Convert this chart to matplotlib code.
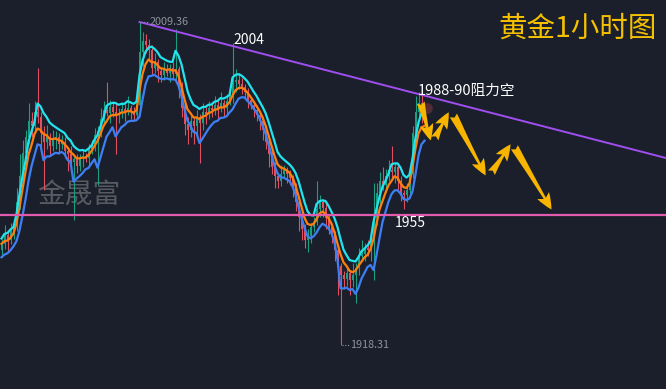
import numpy as np
import pandas as pd
import matplotlib
matplotlib.use("Agg")
import matplotlib.pyplot as plt
from matplotlib.patches import FancyArrowPatch

plt.rcParams['font.family'] = ['Noto Sans CJK SC', 'DejaVu Sans']

# ---------------- data ----------------
first_open = 1945.0
closes = [
    1946.8, 1949.2, 1947.9, 1950.3, 1952.0, 1958.5, 1966.0, 1972.5, 1977.0, 1981.5,
    1980.0, 1984.0, 1982.5, 1978.0, 1975.5, 1976.8, 1974.5, 1976.0, 1977.0, 1975.0,
    1975.5, 1973.0, 1972.2, 1970.0, 1970.6, 1968.8, 1970.9, 1971.5, 1971.0, 1973.5,
    1975.0, 1977.5, 1978.5, 1982.0, 1984.5, 1983.8, 1985.5, 1984.0, 1983.0, 1983.8,
    1984.8, 1984.0, 1985.0, 1984.0, 1983.0, 1986.0, 2001.0, 2004.0, 2003.0, 2001.5,
    1996.5, 1998.0, 1995.5, 1994.5, 1996.0, 1995.0, 1996.5, 1994.8, 1996.0, 1991.0,
    1985.0, 1980.5, 1979.0, 1981.5, 1980.0, 1982.5, 1981.0, 1984.0, 1983.5, 1985.2,
    1984.5, 1986.0, 1985.0, 1986.5, 1985.0, 1987.0, 1988.5, 1992.5, 1993.0, 1992.0,
    1991.0, 1989.5, 1987.5, 1986.0, 1984.5, 1983.0, 1981.5, 1979.0, 1975.5, 1972.0,
    1968.5, 1966.0, 1964.5, 1966.5, 1967.5, 1966.5, 1965.5, 1963.0, 1958.5, 1954.5,
    1951.0, 1948.0, 1949.0, 1951.5, 1953.0, 1956.5, 1958.5, 1957.0, 1954.0, 1951.5,
    1949.5, 1945.0, 1940.5, 1938.0, 1937.0, 1938.5, 1936.5, 1938.0, 1940.0, 1943.5,
    1944.0, 1945.5, 1945.0, 1948.5, 1954.0, 1961.0, 1964.5, 1963.5, 1966.0, 1967.5,
    1967.0, 1968.5, 1964.5, 1961.0, 1960.5, 1962.0, 1966.5, 1978.0, 1984.0, 1986.5,
    1983.0, 1981.0,
]
wick_up = [
    1.5, 3.0, 1.2, 2.5, 1.0, 4.0, 6.0, 3.5, 2.0, 5.0,
    2.5, 3.0, 12.5, 1.5, 2.0, 3.5, 1.2, 2.8, 1.5, 1.0,
    2.0, 1.5, 1.0, 2.2, 0.8, 1.5, 1.2, 2.0, 1.0, 1.5,
    1.2, 2.0, 1.5, 3.0, 2.5, 8.0, 2.0, 1.5, 2.5, 1.2,
    2.0, 1.5, 3.5, 1.0, 1.5, 2.0, 8.36, 2.5, 2.0, 1.5,
    1.5, 2.5, 1.0, 1.2, 2.0, 1.5, 1.0, 1.5, 11.5, 1.0,
    1.5, 1.0, 2.0, 1.5, 1.2, 2.0, 1.0, 2.5, 1.5, 2.0,
    1.0, 2.5, 1.5, 3.0, 1.0, 2.0, 1.5, 11.0, 3.0, 2.0,
    1.5, 1.0, 1.2, 0.8, 1.0, 1.5, 0.8, 1.0, 1.2, 0.8,
    1.0, 1.5, 0.8, 2.5, 1.5, 1.0, 1.2, 0.8, 1.0, 1.5,
    1.0, 1.5, 2.0, 1.2, 1.5, 8.0, 2.0, 1.0, 1.5, 0.8,
    1.0, 0.8, 1.5, 1.0, 1.2, 2.0, 1.0, 3.5, 1.5, 2.0,
    4.0, 1.5, 2.5, 1.5, 10.0, 3.0, 2.5, 4.0, 2.0, 3.0,
    7.0, 1.5, 1.0, 1.5, 1.0, 2.0, 1.5, 2.0, 4.5, 3.0,
    2.5, 1.5,
]
wick_dn = [
    2.0, 1.5, 3.0, 1.2, 2.0, 1.5, 2.0, 3.0, 4.0, 2.0,
    3.0, 2.0, 1.5, 4.0, 13.5, 2.0, 3.0, 1.5, 2.5, 3.0,
    1.5, 2.0, 5.0, 1.5, 16.6, 2.0, 1.5, 2.5, 1.0, 2.0,
    1.5, 2.0, 14.0, 1.5, 2.0, 1.0, 3.0, 1.5, 11.0, 2.0,
    1.5, 2.5, 1.0, 2.0, 1.5, 1.0, 1.5, 4.0, 2.5, 3.0,
    2.0, 1.5, 3.0, 2.0, 1.5, 1.0, 2.5, 1.5, 2.0, 3.0,
    2.5, 3.0, 4.0, 2.0, 5.0, 2.5, 11.4, 2.0, 3.0, 1.5,
    2.0, 1.5, 3.0, 1.0, 2.5, 1.5, 1.0, 2.0, 3.0, 1.5,
    2.0, 1.5, 2.5, 1.2, 2.0, 1.5, 2.5, 3.0, 2.0, 3.5,
    2.0, 3.5, 2.0, 1.5, 1.0, 2.5, 2.0, 3.0, 2.5, 4.0,
    3.0, 2.5, 3.5, 2.0, 1.5, 1.0, 2.0, 2.5, 3.0, 2.0,
    2.5, 3.0, 8.0, 19.69, 3.0, 2.0, 4.0, 2.0, 8.0, 2.0,
    1.5, 2.0, 1.5, 3.0, 12.0, 2.0, 3.0, 1.5, 2.0, 1.5,
    2.0, 3.0, 2.5, 2.0, 4.0, 2.0, 1.5, 1.0, 2.0, 1.5,
    2.0, 3.0,
]

support_level = 1955.0
trend_x = [46, 221.5]
trend_y = [2009.36, 1971.0]

# forecast path arrows (bar index, price)
arrow_paths = [
    ((139.5, 1987.4), (143.3, 1975.2)),
    ((144.0, 1975.8), (149.5, 1984.6)),
    ((150.2, 1983.7), (161.8, 1965.4)),
    ((162.8, 1966.2), (170.2, 1975.5)),
    ((170.5, 1974.7), (183.8, 1955.8)),
]

title_text = "黄金1小时图"
label_2004 = "2004"
label_resist = "1988-90阻力空"
label_1955 = "1955"
watermark = "金晟富"

# ---------------- derive OHLC ----------------
closes = np.array(closes)
opens = np.concatenate([[first_open], closes[:-1]])
highs = np.maximum(opens, closes) + np.array(wick_up)
lows = np.minimum(opens, closes) - np.array(wick_dn)
idx = np.arange(len(closes))

ema_hi = pd.Series(highs).ewm(span=5, adjust=False).mean()
ema_cl = pd.Series(closes).ewm(span=5, adjust=False).mean()
ema_lo = pd.Series(lows).ewm(span=5, adjust=False).mean()

# ---------------- plot ----------------
BG = '#1a1f2b'
fig = plt.figure(figsize=(6.66, 3.89), dpi=100, facecolor=BG)
ax = fig.add_axes([0, 0, 1, 1], facecolor=BG)
ax.set_xlim(-0.5, 221.5)
ax.set_ylim(1905.86, 2015.56)
ax.axis('off')

UP = '#1a9f80'
DN = '#e0505f'
colors = np.where(closes >= opens, UP, DN)
ax.vlines(idx, lows, highs, colors=colors, linewidth=0.8, zorder=2)
body_bot = np.minimum(opens, closes)
body_h = np.maximum(np.abs(closes - opens), 0.4)
ax.bar(idx, body_h, bottom=body_bot, width=0.6, color=colors, linewidth=0, zorder=2)

ax.plot(idx, ema_lo, color='#3f7ff5', linewidth=1.6, zorder=3)
ax.plot(idx, ema_cl, color='#ff7f0e', linewidth=1.6, zorder=4)
ax.plot(idx, ema_hi, color='#22e4ef', linewidth=1.6, zorder=5)

# support & trend lines
ax.axhline(support_level, color='#e05aae', linewidth=1.6, zorder=6)
ax.plot(trend_x, trend_y, color='#a04ef0', linewidth=1.4, zorder=6)

# high / low labels
ih = int(np.argmax(highs))
il = int(np.argmin(lows))
ax.plot([ih + 0.6, ih + 3.0], [highs[ih], highs[ih]], color='#8d929b', linewidth=0.8,
        linestyle=(0, (1, 1.5)), zorder=7)
ax.text(ih + 3.3, highs[ih], f"{highs[ih]:.2f}", color='#8d929b', fontsize=7.8,
        va='center', ha='left', zorder=7)
ax.plot([il + 0.6, il + 3.0], [lows[il], lows[il]], color='#8d929b', linewidth=0.8,
        linestyle=(0, (1, 1.5)), zorder=7)
ax.text(il + 3.3, lows[il], f"{lows[il]:.2f}", color='#8d929b', fontsize=7.8,
        va='center', ha='left', zorder=7)

# annotations
ax.text(77.2, 2004.3, label_2004, color='white', fontsize=10, va='center', ha='left', zorder=8)
ax.text(138.8, 1989.9, label_resist, color='white', fontsize=10.5, va='center', ha='left', zorder=8)
ax.text(131.2, 1952.6, label_1955, color='white', fontsize=10, va='center', ha='left', zorder=8)
ax.text(11.8, 1960.8, watermark, color='#575a60', fontsize=20, va='center', ha='left', zorder=1)

ax.scatter([141.8], [1985.0], s=60, color='#ff5050', alpha=0.25, linewidths=0, zorder=7)

for (x0, y0), (x1, y1) in arrow_paths:
    arr = FancyArrowPatch((x0, y0), (x1, y1),
                          arrowstyle='fancy,head_length=0.9,head_width=0.75,tail_width=0.45',
                          mutation_scale=13, color='#f7b500', linewidth=0, zorder=9)
    ax.add_patch(arr)

fig.text(657 / 666, 1 - 29 / 389, title_text, color='#f5c000', fontsize=20.5,
         ha='right', va='center')

fig.savefig('out.png', dpi=100, facecolor=BG)
